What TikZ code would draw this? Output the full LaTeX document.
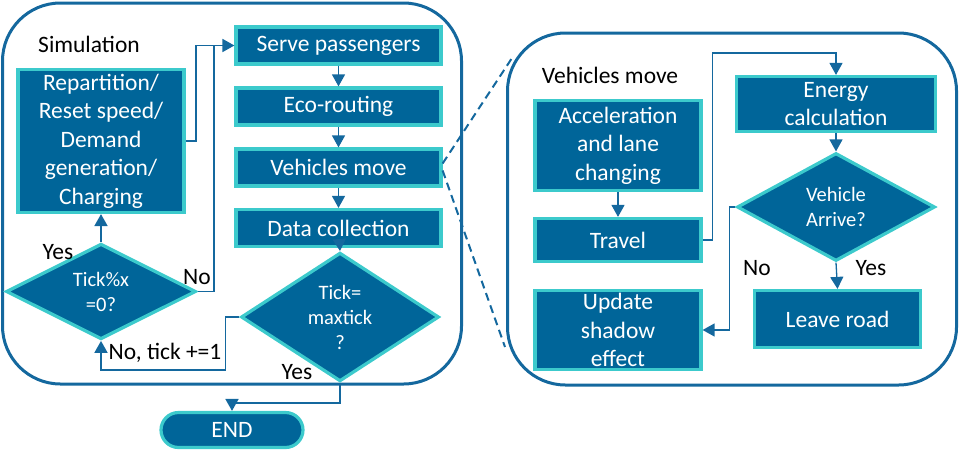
\documentclass[tikz,border=0pt]{standalone}
\usepackage{fontspec}
\setmainfont{Carlito}
\usetikzlibrary{shapes.geometric,shapes.misc,arrows.meta,calc}
\definecolor{dblue}{RGB}{0,101,153}
\definecolor{teal2}{RGB}{60,202,204}
\definecolor{lineblue}{RGB}{20,104,158}
\begin{document}
\begin{tikzpicture}[x=1pt,y=-1pt,
  box/.style={draw=teal2,fill=dblue,line width=3.2pt,text=white,align=center,inner sep=0pt,
    font=\fontsize{23.5}{28.5}\selectfont},
  dia/.style={diamond,draw=teal2,fill=dblue,line width=3.2pt,text=white,align=center,inner sep=0pt,
    font=\fontsize{20.5}{25}\selectfont},
  panel/.style={draw=lineblue,line width=3pt,rounded corners=58pt},
  conn/.style={draw=lineblue,line width=1.8pt},
  connt/.style={draw=lineblue,line width=1.3pt},
  arr/.style={-{Triangle[length=12pt,width=13pt]}},
  lbl/.style={font=\fontsize{23.5}{28.5}\selectfont,text=black,inner sep=0pt},
  dsh/.style={draw=lineblue,line width=2pt,dash pattern=on 8pt off 5pt}
]
\useasboundingbox (0,0) rectangle (960,458);
% panels
\draw[panel] (2.5,3) rectangle (461.5,384);
\draw[panel] (507.5,33) rectangle (956.5,385);
\node[lbl] (simlbl) at (89,44) {Simulation};
\node[lbl] (vmlbl) at (610,75) {Vehicles move};

% left panel nodes
\node[box,minimum width=205pt,minimum height=37pt] (serve) at (338.5,45.5) {Serve passengers};
\node[box,minimum width=205pt,minimum height=37pt] (eco) at (338.5,106.5) {Eco-routing};
\node[box,minimum width=205pt,minimum height=37pt] (vm) at (338.5,167.5) {Vehicles move};
\node[box,minimum width=205pt,minimum height=37pt] (dc) at (338.5,228) {Data collection};
\node[dia,minimum width=198pt,minimum height=108pt] (tm) at (340,317) {Tick=\\maxtick\\?};
\node[dia,minimum width=190pt,minimum height=86pt] (tx) at (101,291.5) {Tick\%x\\=0?};
\node[box,minimum width=166pt,minimum height=143pt] (rep) at (101,141) {Repartition/\\Reset speed/\\Demand\\generation/\\Charging};
\node[box,rounded rectangle,minimum width=142pt,minimum height=35pt] (endn) at (232,430) {END};

% right panel nodes
\node[box,minimum width=166pt,minimum height=90pt] (acc) at (618,145.5) {Acceleration\\and lane\\changing};
\node[box,minimum width=166pt,minimum height=43pt] (trav) at (618,240) {Travel};
\node[box,minimum width=166pt,minimum height=79pt] (upd) at (618,330) {Update\\shadow\\effect};
\node[box,minimum width=199pt,minimum height=55pt] (energy) at (836,104) {Energy\\calculation};
\node[dia,minimum width=198pt,minimum height=108pt] (va) at (836,207) {Vehicle\\Arrive?};
\node[box,minimum width=166pt,minimum height=57pt] (leave) at (837.5,319) {Leave road};

% left connectors
\draw[conn,arr] (rep.east) -- ++(10,0) |- (serve.west);
\draw[conn] (tx.east) -- ++(16,0) |- (serve.west);
\draw[connt,arr] (serve) -- (eco);
\draw[connt,arr] (eco) -- (vm);
\draw[connt,arr] (vm) -- (dc);
\draw[connt,arr] (dc) -- (tm.north);
\draw[conn,arr] (tx.north) -- (rep.south);
\draw[conn,arr] (tm.west) -- ++(-14,0) -- ++(0,53) -| (tx.south);
\draw[conn,arr] (tm.south) -- ++(0,20) -| (endn.north);
\node[lbl] (yes1) at (58,252) {Yes};
\node[lbl] (no1) at (197,277) {No};
\node[lbl] (no2) at (165,353) {No, tick +=1};
\node[lbl] (yes2) at (297,372) {Yes};

% right connectors
\draw[connt,arr] (acc) -- (trav);
\draw[connt,arr] (trav.east) -- ++(10,0) |- ($(energy.north)+(0,-22)$) -- (energy.north);
\draw[connt,arr] (energy) -- (va.north);
\draw[connt,arr] (va.west) -- ++(-6,0) |- (upd.east);
\draw[connt,arr] (va.south) -- (leave.north);
\node[lbl] (no3) at (757,268) {No};
\node[lbl] (yes3) at (871,268) {Yes};

% dashed zoom lines
\coordinate (d1) at (512,58);
\coordinate (d2) at (505,347);
\draw[dsh] ([yshift=4pt]vm.east) -- (d1);
\draw[dsh] ([yshift=-3pt]vm.east) -- (d2);
\end{tikzpicture}
\end{document}
